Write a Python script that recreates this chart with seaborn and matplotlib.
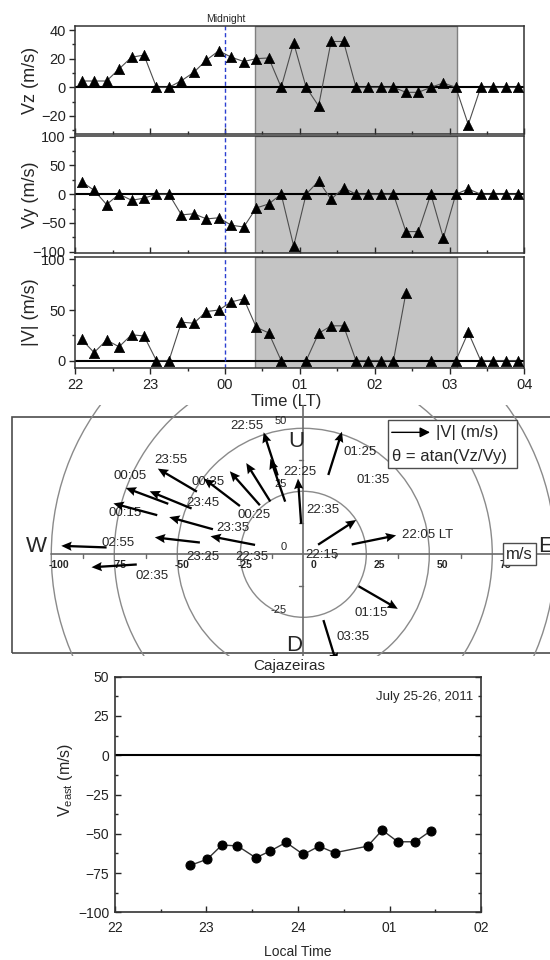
import numpy as np
import pandas as pd
import matplotlib
matplotlib.use("Agg")
import matplotlib.pyplot as plt
from matplotlib.patches import Rectangle, Circle
from matplotlib.ticker import MultipleLocator
import seaborn as sns

sns.set_style("ticks")
plt.rcParams["font.family"] = ["Liberation Sans", "DejaVu Sans"]
plt.rcParams["mathtext.default"] = "regular"

# ------------------------------------------------------------
# Data - top panels (10 min samples, LT)
# ------------------------------------------------------------
times = ["22:05", "22:15", "22:25", "22:35", "22:45", "22:55",
         "23:05", "23:15", "23:25", "23:35", "23:45", "23:55",
         "00:05", "00:15", "00:25", "00:35", "00:45", "00:55",
         "01:05", "01:15", "01:25", "01:35", "01:45", "01:55",
         "02:05", "02:15", "02:25", "02:35", "02:45", "02:55",
         "03:05", "03:15", "03:25", "03:35", "03:45", "03:55"]
vz = [4.4, 4.4, 4.4, 12.8, 21, 22.5, 0, 0, 4.6, 10.5, 19, 25.5,
      21, 18, 20, 20.5, 0, 31, 0, -13, 32, 32, 0, 0,
      0, 0, -3.5, -3.5, 0, 3, 0, -26, 0, 0, 0, 0]
vy = [21.6, 6.8, -18, 0, -10.5, -7, 0, 0, -36, -34, -43, -41,
      -54, -57, -24, -17, 0, -90, 0, 23, -9, 11, 0, 0,
      0, 0, -65, -65, 0, -76, 0, 9, 0, 0, 0, 0]
vmag = [21, 8, 20.4, 13.7, 25.6, 24.4, 0, 0, 38, 37, 48.5, 50,
        58, 61, 33, 27.4, 0, np.nan, 0, 27, 34.4, 34.4, 0, 0,
        0, 0, 67, np.nan, 0, np.nan, 0, 28, 0, 0, 0, 0]
hour_labels = ["22", "23", "00", "01", "02", "03", "04"]
shade_start, shade_end = "00:24", "03:06"
midnight = "00:00"

# Hodograph vectors (tail at |V|, direction theta)
hodo_time = ["22:05", "22:15", "22:25", "22:35", "22:45", "22:55",
             "23:25", "23:35", "23:45", "23:55", "00:05", "00:15",
             "00:25", "00:35", "01:15", "01:25", "01:35", "02:25",
             "02:55", "03:15"]
hodo_mag = [19.6, 7, 19.5, 12.1, 24.7, 22.1, 41.3, 37.2, 47.9, 49,
            57.2, 60, 31.6, 26, 25.3, 32.9, 33, 66.2, 78.1, 27.3]
hodo_theta = [11.5, 33, 169, 94, 122, 109, 173.5, 164.5, 157.7, 149.5,
              159.5, 165, 142.7, 131.5, -30, 108, 72.5, 183.5, 178, -73]
hodo_label_text = ["22:55", "23:55", "00:05", "00:35", "23:45", "00:15",
                   "00:25", "23:35", "02:55", "23:25", "22:35", "02:35",
                   "22:25", "01:25", "01:35", "22:35", "22:05 LT", "22:15",
                   "01:15", "03:35"]
hodo_label_x = [-22.3, -52.6, -68.8, -37.7, -39.7, -70.8, -19.6, -27.8, -73.7, -40,
                -20.5, -60.2, -1.3, 22.5, 27.8, 7.9, 49.3, 7.3, 27.1, 19.8]
hodo_label_y = [50.9, 37.4, 31.1, 28.8, 20.5, 16.3, 15.6, 10.3, 4.6, -1,
                -1, -8.6, 32.8, 40.7, 29.5, 17.6, 7.7, -0.3, -23.4, -32.7]
hodo_rings = [25, 50, 75, 100]

# Bottom panel - Cajazeiras
cj_time = [22.82, 23.01, 23.17, 23.34, 23.54, 23.70, 23.87, 24.06,
           24.23, 24.40, 24.76, 24.92, 25.09, 25.28, 25.45]
cj_veast = [-70.2, -66.2, -57.2, -57.7, -65.3, -60.9, -55.5, -63.2,
            -57.9, -62.1, -57.9, -47.7, -55.1, -55.1, -48.1]
cj_labels = ["22", "23", "24", "01", "02"]


def to_h(s):
    hh, mm = s.split(":")
    h = int(hh) + int(mm) / 60
    if h < 12:
        h += 24
    return h - 22


df = pd.DataFrame({"t": [to_h(s) for s in times], "vz": vz, "vy": vy, "vmag": vmag})

W, H = 550, 960
fig = plt.figure(figsize=(5.5, 9.6), dpi=100)


def px_axes(x0, y0, x1, y1):
    return fig.add_axes([x0 / W, 1 - y1 / H, (x1 - x0) / W, (y1 - y0) / H])


# ------------------------------------------------------------
# Top three panels
# ------------------------------------------------------------
panels = [
    (px_axes(75.4, 26, 524.4, 134), "vz", "Vz (m/s)", (-32.6, 42.8), 20, 10),
    (px_axes(75.4, 136, 524.4, 253.3), "vy", "Vy (m/s)", (-102.8, 101.2), 50, 25),
    (px_axes(75.4, 256.7, 524.4, 368.3), "vmag", "|V| (m/s)", (-7.5, 102.6), 50, 25),
]
for i, (ax, col, lab, ylim, maj, mnr) in enumerate(panels):
    ax.axvspan(to_h(shade_start), to_h(shade_end), fc="#c4c4c4", ec="#808080", lw=1, zorder=0)
    ax.axhline(0, color="k", lw=1.5, zorder=1)
    ax.axvline(to_h(midnight), color="#2b3fd1", ls=(0, (3, 2)), lw=1, zorder=2)
    sub = df[["t", col]].copy()
    sub["seg"] = sub[col].isna().cumsum()
    sns.lineplot(data=sub.dropna(), x="t", y=col, units="seg", estimator=None,
                 color="#4d4d4d", lw=0.8, ax=ax, legend=False, zorder=3)
    sns.scatterplot(data=sub, x="t", y=col, marker="^", s=55, color="k",
                    edgecolor="k", linewidth=0.5, ax=ax, legend=False, zorder=4)
    ax.set_xlim(0, 6)
    ax.set_ylim(*ylim)
    ax.xaxis.set_major_locator(MultipleLocator(1))
    ax.xaxis.set_minor_locator(MultipleLocator(0.5))
    ax.yaxis.set_major_locator(MultipleLocator(maj))
    ax.yaxis.set_minor_locator(MultipleLocator(mnr))
    ax.tick_params(axis="y", which="major", direction="out", length=4, width=1, pad=3,
                   labelsize=10.5, labelcolor="#222222")
    ax.tick_params(axis="y", which="minor", direction="out", length=2.5, width=1)
    xdir = "out" if i == 2 else "in"
    ax.tick_params(axis="x", which="major", direction=xdir, length=4, width=1, pad=3.3,
                   labelsize=10.5, labelcolor="#222222", labelbottom=(i == 2))
    ax.tick_params(axis="x", which="minor", direction=xdir, length=2.5, width=1)
    for sp in ax.spines.values():
        sp.set_visible(True)
        sp.set_linewidth(1.1)
        sp.set_color("#333333")
    ax.set_ylabel(lab, fontsize=13)
    ax.yaxis.set_label_coords(-0.082, 0.5)
    ax.set_xlabel("")

ax3 = panels[2][0]
ax3.set_xticks(range(7))
ax3.set_xticklabels(hour_labels)
ax3.set_xlabel("Time (LT)", fontsize=12)
ax3.xaxis.set_label_coords(0.4686, -0.226)
fig.text(226 / W, 1 - 19 / H, "Midnight", ha="center", va="center", fontsize=7.5)

# ------------------------------------------------------------
# Hodograph
# ------------------------------------------------------------
axh = px_axes(11.7, 405, 560, 656)
axh.set_xlim(-115.71, 101.87)
axh.set_ylim(-40.36, 59.25)
axh.axis("off")

axh.add_patch(Rectangle((-115.71, -39.29), 300, 93.66, fill=False, ec="#4d4d4d",
                        lw=1.2, clip_on=False, zorder=1))
for r in hodo_rings:
    axh.add_patch(Circle((0, 0), r, fill=False, ec="#8a8a8a", lw=1.0, zorder=1))
axh.plot([-100, 100], [0, 0], color="#6a6a6a", lw=1.2, zorder=2)
axh.plot([0, 0], [-40.36, 59.25], color="#6a6a6a", lw=1.2, zorder=2)
for v in np.arange(-87.5, 100, 25):
    axh.plot([v, v], [0, -1.6], color="#6a6a6a", lw=1, zorder=2)
for v in [-12.5, 12.5, 37.5]:
    axh.plot([-1.6, 0], [v, v], color="#6a6a6a", lw=1, zorder=2)
for v in [-100, -75, -50, -25, 0, 25, 50, 75, 100]:
    axh.text(v - 1 if v < 0 else v + 3, -4.2, str(v), fontsize=7.5, fontweight="bold",
             ha="left", va="center", zorder=3)
for v in [-25, 0, 25, 50]:
    axh.text(-6.5, v + 2.8, str(v), fontsize=8, ha="right", va="center", zorder=3)

th = np.deg2rad(hodo_theta)
mag = np.array(hodo_mag)
L = 18
for txt, x, y in zip(hodo_label_text, hodo_label_x, hodo_label_y):
    axh.text(x, y, txt, fontsize=9.5, ha="center", va="center", zorder=4)
axh.quiver(mag * np.cos(th), mag * np.sin(th), L * np.cos(th), L * np.sin(th),
           angles="xy", scale_units="xy", scale=1, color="k", width=0.0042,
           headwidth=4, headlength=4.5, headaxislength=4, zorder=5)

axh.text(-106.1, 3, "W", fontsize=16, ha="center", va="center", zorder=6)
axh.text(93.1, 3, "E", fontsize=16, ha="left", va="center", zorder=6)
axh.text(-2.9, 44.7, "U", fontsize=16, ha="center", va="center", zorder=6)
axh.text(-3.7, -36, "D", fontsize=16, ha="center", va="center", zorder=6)
axh.text(85.9, 0, "m/s", fontsize=12, ha="center", va="center", zorder=8,
         bbox=dict(boxstyle="square,pad=0.2", fc="white", ec="#4d4d4d", lw=1))

axh.add_patch(Rectangle((33.7, 34.1), 51, 19.2, fc="white", ec="#4d4d4d", lw=1, zorder=7))
axh.annotate("", xy=(50.3, 48.4), xytext=(35.1, 48.4), zorder=8,
             arrowprops=dict(arrowstyle="-|>", color="k", lw=1, mutation_scale=15,
                             shrinkA=0, shrinkB=0))
axh.text(52.5, 48.4, "|V| (m/s)", fontsize=12, ha="left", va="center", zorder=8)
axh.text(35.1, 38.7, "θ = atan(Vz/Vy)", fontsize=12, ha="left", va="center", zorder=8)

# ------------------------------------------------------------
# Bottom panel - Cajazeiras
# ------------------------------------------------------------
axb = px_axes(114.7, 676.7, 481.2, 912.3)
axb.axhline(0, color="k", lw=1.5, zorder=1)
sns.lineplot(x=cj_time, y=cj_veast, color="#333333", lw=1, marker="o", markersize=6.5,
             markerfacecolor="k", markeredgecolor="k", ax=axb, zorder=3)
axb.set_xlim(22, 26)
axb.set_ylim(-100, 50)
axb.xaxis.set_major_locator(MultipleLocator(1))
axb.xaxis.set_minor_locator(MultipleLocator(0.5))
axb.yaxis.set_major_locator(MultipleLocator(25))
axb.yaxis.set_minor_locator(MultipleLocator(12.5))
axb.set_xticks(range(22, 27))
axb.set_xticklabels(cj_labels)
axb.tick_params(axis="both", which="major", direction="in", length=4, width=1,
                labelsize=10, labelcolor="#222222", right=True)
axb.tick_params(axis="both", which="minor", direction="in", length=2.5, width=1, right=True)
axb.tick_params(axis="x", pad=6)
axb.tick_params(axis="y", pad=4)
for sp in axb.spines.values():
    sp.set_visible(True)
    sp.set_linewidth(1.2)
    sp.set_color("#333333")
axb.set_ylabel("V$_{east}$ (m/s)", fontsize=11.5)
axb.yaxis.set_label_coords(-0.107, 0.5615)
axb.set_xlabel("Local Time", fontsize=10)
axb.xaxis.set_label_coords(0.5, -0.139)
axb.text(0.4762, 1.045, "Cajazeiras", transform=axb.transAxes, ha="center", va="center",
         fontsize=11)
axb.text(0.979, 0.915, "July 25-26, 2011", transform=axb.transAxes, ha="right",
         va="center", fontsize=9.5)

fig.savefig("out.png", dpi=100, facecolor="white")
